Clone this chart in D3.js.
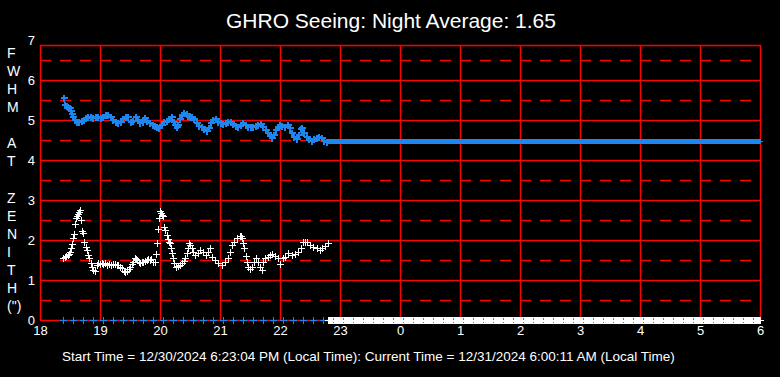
<!DOCTYPE html>
<html><head><meta charset="utf-8">
<script src="https://cdn.jsdelivr.net/npm/d3@7"></script>
<style>html,body{margin:0;padding:0;background:#000;} svg{display:block}</style>
</head><body>
<svg id="c" width="780" height="377"></svg>
<script>
const chartTitle = "GHRO Seeing: Night Average: 1.65";
const footerText = "Start Time = 12/30/2024 6:23:04 PM (Local Time): Current Time = 12/31/2024 6:00:11 AM (Local Time)";
const yTitleLetters = ["F","W","H","M","","A","T","","Z","E","N","I","T","H","(\")"];
const hourTicks = [18,19,20,21,22,23,24,25,26,27,28,29,30];
const hourLabels = ["18","19","20","21","22","23","0","1","2","3","4","5","6"];
const yTicks = [0,1,2,3,4,5,6,7];
const yHalfTicks = [0.5,1.5,2.5,3.5,4.5,5.5,6.5];

// minutes after 18:00 local time
const fwhmMinutes = [24,25,27,28,30,31,32,33,35,37,39,42,44,46,48,51,53,56,58,61,63,66,68,71,73,76,78,81,83,86,88,91,93,96,98,100,103,105,107,110,113,115,117,119,122,124,127,129,132,134,135,137,138,140,142,144,147,148,150,152,154,157,159,162,164,167,169,171,173,176,178,181,183,186,188,191,193,196,198,201,203,206,208,211,213,216,218,221,223,226,228,230,232,234,236,238,240,242,245,248,250,252,254,257,259,261,262,264,267,269,272,274,277,279,282,284,287];
const fwhmValues  = [5.54,5.38,5.35,5.32,5.29,5.23,5.15,5.08,5.00,4.94,4.96,4.98,5.00,5.04,5.08,5.07,5.06,5.07,5.08,5.06,5.07,5.12,5.12,5.07,5.00,4.94,4.93,4.96,5.02,5.08,5.07,4.96,4.98,5.07,5.00,4.92,4.96,5.04,4.98,4.92,4.88,4.85,4.82,4.79,4.88,4.96,4.98,5.02,5.07,4.96,4.88,4.82,4.88,5.02,5.12,5.18,5.15,5.10,5.07,5.08,5.02,4.92,4.85,4.82,4.77,4.73,4.79,4.92,5.00,5.02,4.96,4.92,4.90,4.93,4.96,4.96,4.90,4.85,4.83,4.88,4.92,4.88,4.83,4.82,4.83,4.85,4.88,4.90,4.83,4.75,4.68,4.63,4.54,4.63,4.75,4.83,4.88,4.85,4.83,4.88,4.79,4.68,4.58,4.52,4.63,4.77,4.79,4.67,4.57,4.52,4.48,4.52,4.54,4.58,4.54,4.48,4.46];

const seeingMinutes = [23,25,26,28,29,30,31,32,33,34,35,36,37,38,39,40,41,42,43,44,46,47,48,49,51,52,53,55,57,58,60,62,63,65,67,69,71,73,75,77,78,80,82,84,85,87,89,90,92,93,95,96,97,99,100,102,103,105,107,108,110,111,113,115,116,117,118,119,120,121,122,123,124,125,127,128,129,130,131,132,133,134,136,138,140,142,144,145,147,148,149,150,152,153,155,158,160,163,166,168,170,172,175,178,182,185,188,190,192,194,197,200,201,202,203,204,206,207,208,210,212,214,216,218,220,222,223,225,228,230,232,235,238,240,243,245,248,252,255,258,261,263,265,267,270,273,277,280,282,285,288];
const seeingValues  = [1.55,1.58,1.60,1.63,1.66,1.70,1.80,1.90,2.05,2.15,2.40,2.56,2.61,2.66,2.70,2.74,2.50,2.22,2.17,1.96,1.83,1.75,1.62,1.54,1.42,1.33,1.25,1.22,1.38,1.42,1.40,1.42,1.40,1.42,1.37,1.40,1.38,1.40,1.40,1.38,1.37,1.33,1.29,1.22,1.19,1.22,1.28,1.33,1.40,1.46,1.56,1.52,1.50,1.46,1.42,1.44,1.46,1.48,1.50,1.52,1.50,1.52,1.46,1.44,1.64,1.92,2.27,2.54,2.72,2.68,2.62,2.60,2.33,2.25,2.12,2.02,1.96,1.92,1.79,1.67,1.54,1.42,1.33,1.35,1.37,1.42,1.48,1.54,1.67,1.80,1.92,1.87,1.79,1.70,1.62,1.67,1.75,1.71,1.62,1.71,1.79,1.58,1.50,1.42,1.37,1.46,1.54,1.71,1.87,1.96,2.04,2.11,2.09,2.04,1.92,1.79,1.60,1.46,1.33,1.28,1.33,1.46,1.54,1.46,1.33,1.25,1.46,1.56,1.58,1.62,1.64,1.60,1.54,1.39,1.54,1.58,1.67,1.62,1.64,1.71,1.81,1.96,1.95,1.94,1.87,1.83,1.79,1.75,1.79,1.86,1.92];

// idle period (no data): FWHM parked at a constant, seeing at zero
const idleStartMinute = 288, idleEndMinute = 720;
const idleFwhmValue = 4.47, idleSeeingValue = 0;
// zero markers of the FWHM series, one every 10 minutes from the start time
const zeroMarkFirstMinute = 22.7, zeroMarkStepMinutes = 10, zeroMarkValue = 0;

const BLUE = "#1E86EC", RED = "#FF0000", WHITE = "#FFFFFF";
const FONT = "'Liberation Sans', Arial, sans-serif";

const svg = d3.select("#c");
svg.append("rect").attr("width",780).attr("height",377).attr("fill","#000");

const x = d3.scaleLinear().domain([18,30]).range([40,760]);
const y = d3.scaleLinear().domain([0,7]).range([320,40]);
const xm = m => x(18 + m/60);
const plotTop = 45;
const GW = 1.5;

const grid = svg.append("g").attr("stroke",RED).attr("stroke-width",GW);
// dashed half-unit lines
grid.selectAll("line.h").data(yHalfTicks).join("line")
  .attr("x1",x(18)).attr("x2",x(30))
  .attr("y1",d=>Math.round(y(d))+0.5).attr("y2",d=>Math.round(y(d))+0.5)
  .attr("stroke-dasharray","11,9");
// solid unit lines
grid.selectAll("line.s").data(yTicks.filter(d=>d>0 && d<7)).join("line")
  .attr("x1",x(18)).attr("x2",x(30))
  .attr("y1",d=>Math.round(y(d))+0.5).attr("y2",d=>Math.round(y(d))+0.5);
// vertical hour lines
grid.selectAll("line.v").data(hourTicks).join("line")
  .attr("x1",d=>Math.round(x(d))+0.5).attr("x2",d=>Math.round(x(d))+0.5)
  .attr("y1",plotTop).attr("y2",y(0));
// frame
grid.append("line").attr("x1",x(18)).attr("x2",x(30)+1).attr("y1",plotTop+0.5).attr("y2",plotTop+0.5);
grid.append("line").attr("x1",x(18)).attr("x2",x(30)+1).attr("y1",y(0)+0.5).attr("y2",y(0)+0.5);

function crosses(pts, r, w){
  w = w || 1;
  return pts.map(([px,py])=>{
    const X=Math.round(px), Y=Math.round(py);
    const o = w===1 ? 0.5 : 0;
    return `M${X-r},${Y+o}H${X+r+1}M${X+o},${Y-r}V${Y+r+1}`;
  }).join("");
}
const marks = svg.append("g").attr("fill","none").attr("shape-rendering","crispEdges");

const zeroMinutes = d3.range(zeroMarkFirstMinute, idleEndMinute+0.01, zeroMarkStepMinutes);
const idleMinutes = d3.range(idleStartMinute, idleEndMinute+0.01, 1);

// blue zero markers
marks.append("path").attr("stroke",BLUE)
  .attr("d",crosses(zeroMinutes.filter(m=>m<idleStartMinute).map(m=>[xm(m),y(zeroMarkValue)]),3));
// white idle band at zero
marks.append("path").attr("stroke",WHITE)
  .attr("d",crosses(idleMinutes.map(m=>[xm(m),y(idleSeeingValue)]),3));
// blue dots visible in the idle band
marks.append("g").selectAll("rect").data(zeroMinutes.filter(m=>m>=idleStartMinute)).join("rect")
  .attr("x",m=>Math.round(xm(m))).attr("y",Math.round(y(zeroMarkValue))-2).attr("width",1).attr("height",2).attr("fill",BLUE);
marks.append("g").selectAll("rect").data(zeroMinutes.filter(m=>m>=idleStartMinute)).join("rect")
  .attr("x",m=>Math.round(xm(m))).attr("y",Math.round(y(zeroMarkValue))+2).attr("width",1).attr("height",1).attr("fill",BLUE);

// FWHM series
marks.append("path").attr("stroke",BLUE).attr("stroke-width",2)
  .attr("d",crosses(fwhmMinutes.map((m,i)=>[xm(m),y(fwhmValues[i])]),3,2));
marks.append("path").attr("stroke",BLUE).attr("stroke-width",1)
  .attr("d",crosses(idleMinutes.map(m=>[xm(m),y(idleFwhmValue)]),2));
// seeing series
marks.append("path").attr("stroke",WHITE)
  .attr("d",crosses(seeingMinutes.map((m,i)=>[xm(m),y(seeingValues[i])]),3));

// axes
const xAxis = d3.axisBottom(x).tickValues(hourTicks).tickFormat((d,i)=>hourLabels[i]).tickSize(0).tickPadding(0);
const gx = svg.append("g").attr("transform",`translate(0,${y(0)})`).call(xAxis);
gx.select(".domain").remove();
gx.selectAll("text").attr("fill",WHITE).attr("font-family",FONT).attr("font-size","13px")
  .attr("dy",null).attr("y",15);

const yAxis = d3.axisLeft(y).tickValues(yTicks).tickSize(0).tickPadding(0).tickFormat(d3.format("d"));
const gy = svg.append("g").attr("transform",`translate(35,0)`).call(yAxis);
gy.select(".domain").remove();
gy.selectAll("text").attr("fill",WHITE).attr("font-family",FONT).attr("font-size","13px")
  .attr("x",0).attr("dy","0.36em");

// y title letters
svg.append("g").selectAll("text").data(yTitleLetters).join("text")
  .attr("x",7).attr("y",(d,i)=>58 + i*18.07)
  .attr("fill",WHITE).attr("font-family",FONT).attr("font-size","14px")
  .text(d=>d);

// title
svg.append("text").attr("x",391).attr("y",27.5).attr("text-anchor","middle")
  .attr("fill",WHITE).attr("font-family",FONT).attr("font-size","21px").text(chartTitle);
// footer
svg.append("text").attr("x",62).attr("y",360.5)
  .attr("fill",WHITE).attr("font-family",FONT).attr("font-size","13.5px").text(footerText);
</script>
</body></html>
